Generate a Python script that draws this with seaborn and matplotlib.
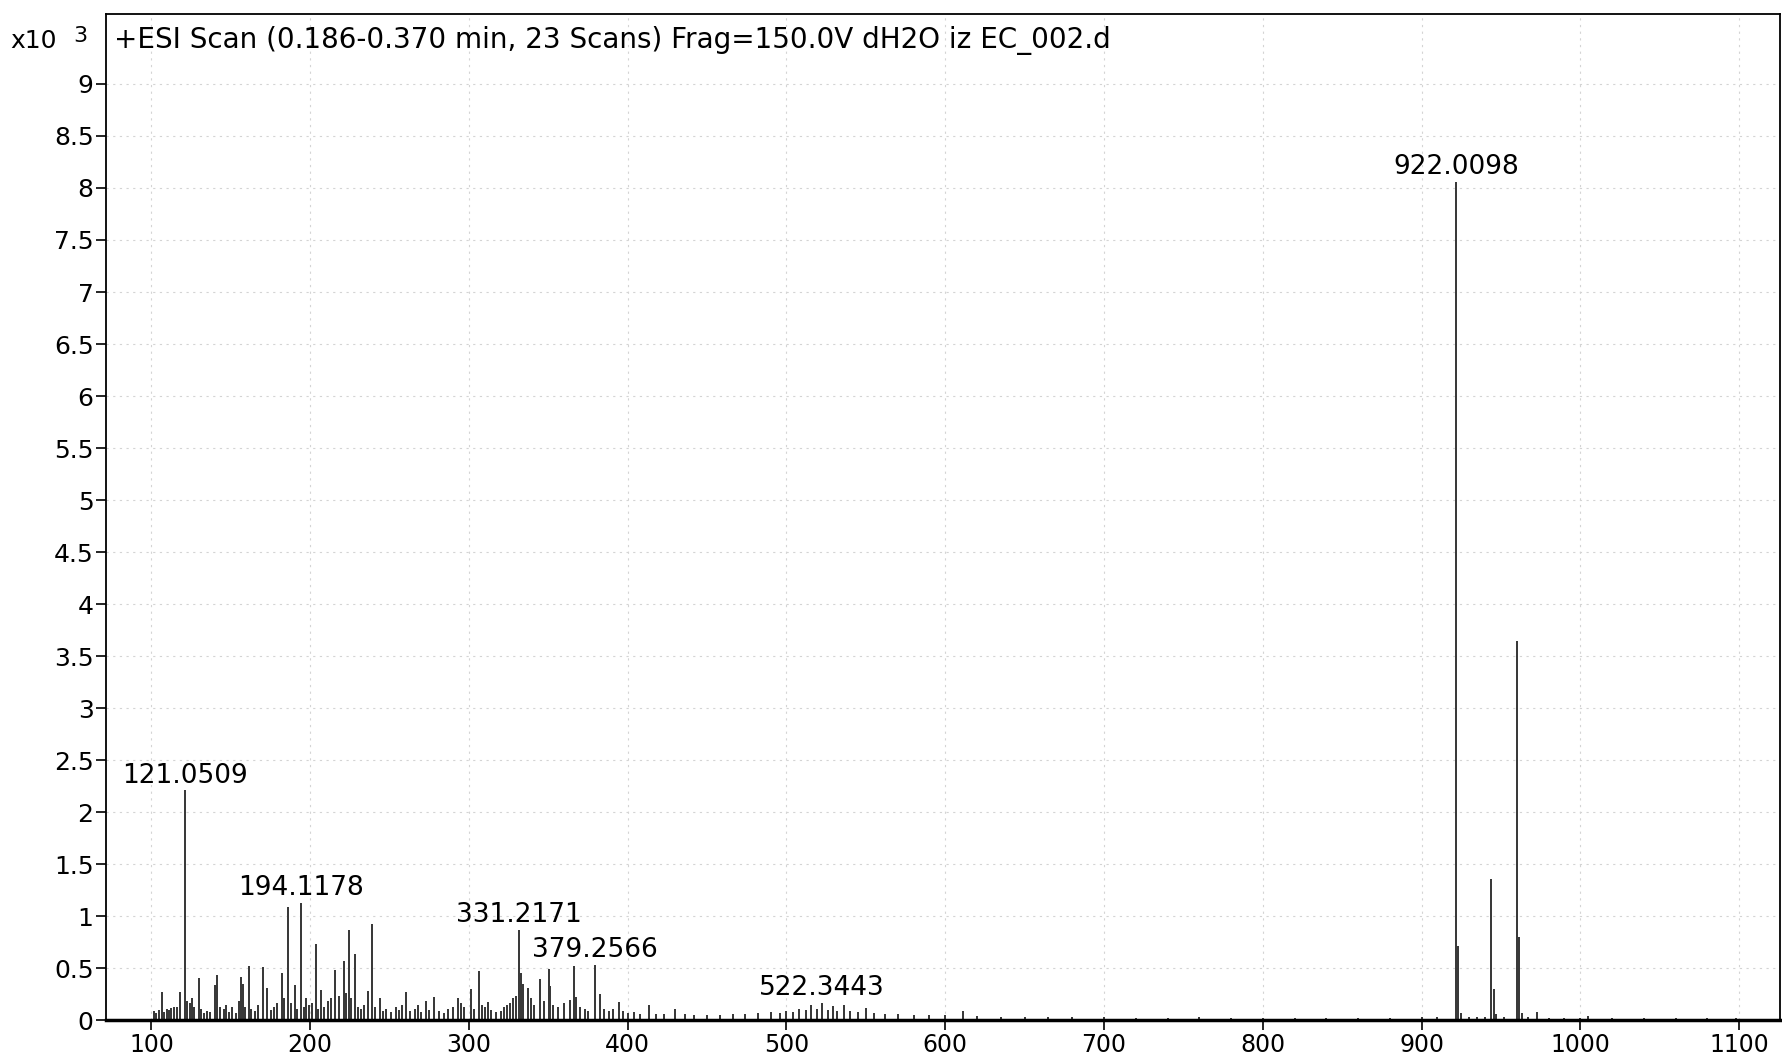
import pandas as pd
import matplotlib
matplotlib.use('Agg')
import matplotlib.pyplot as plt
import seaborn as sns

# m/z and counts (x10^3)
low_mz = [101.5, 103, 104.5, 106.5, 108, 109.5, 111, 112.5, 114, 116, 118, 121.0509,
          122.5, 124, 125.5, 127, 129.8, 131.5, 133, 135, 137, 139.8, 141.6, 143,
          145.5, 147, 149, 151, 153.5, 155, 156.6, 157.8, 159, 161.5, 163, 165, 167,
          170, 173, 175, 177, 179, 182, 183.5, 185.8, 188, 190.5, 192, 194.1178,
          196, 197.5, 199.5, 201, 203.8, 205, 207, 209, 211, 213, 215.8, 218, 221,
          222.5, 224.3, 226, 228, 230, 232, 234, 236.3, 239, 241, 244, 246, 248]
low_int = [0.08, 0.06, 0.09, 0.26, 0.07, 0.10, 0.09, 0.11, 0.12, 0.12, 0.26, 2.20,
           0.18, 0.16, 0.20, 0.12, 0.40, 0.10, 0.06, 0.08, 0.07, 0.33, 0.43, 0.12,
           0.10, 0.14, 0.07, 0.12, 0.06, 0.18, 0.41, 0.34, 0.12, 0.51, 0.10, 0.08, 0.14,
           0.50, 0.30, 0.09, 0.12, 0.16, 0.44, 0.20, 1.08, 0.16, 0.33, 0.10, 1.12,
           0.12, 0.20, 0.14, 0.16, 0.72, 0.10, 0.28, 0.12, 0.18, 0.20, 0.47, 0.22, 0.56,
           0.25, 0.86, 0.20, 0.63, 0.12, 0.10, 0.14, 0.27, 0.92, 0.12, 0.20, 0.08, 0.10]

mid_mz = [251, 254, 256, 258, 260.3, 263, 266, 268, 270, 273, 275, 278, 281, 284,
          287, 290, 293, 295, 297, 301.2, 303, 306.5, 308, 310, 312, 314, 317, 320,
          322, 324, 326, 328, 329.5, 331.2171, 332.9, 334.3, 336.9, 339, 341, 345,
          347, 350.5, 351.3, 353, 356, 359.7, 363.7, 366.1, 367.4, 370, 373, 375,
          379.2566, 382.5, 385, 388, 391, 394.3, 397, 400, 404, 408, 413.7, 418, 423,
          430, 436, 442, 450]
mid_int = [0.07, 0.12, 0.09, 0.14, 0.26, 0.08, 0.10, 0.14, 0.07, 0.18, 0.09, 0.21, 0.08, 0.06,
           0.10, 0.12, 0.20, 0.16, 0.12, 0.29, 0.10, 0.46, 0.14, 0.12, 0.17, 0.09, 0.07, 0.08,
           0.12, 0.14, 0.16, 0.20, 0.22, 0.86, 0.44, 0.34, 0.30, 0.20, 0.14, 0.39,
           0.18, 0.48, 0.32, 0.14, 0.12, 0.16, 0.19, 0.51, 0.21, 0.12, 0.10, 0.08,
           0.52, 0.24, 0.10, 0.08, 0.10, 0.17, 0.08, 0.06, 0.07, 0.05, 0.14, 0.05, 0.05,
           0.10, 0.05, 0.04, 0.04]

high_mz = [458, 466, 474, 482, 490, 496, 500, 504, 508, 512, 515.3, 519, 522.3443,
           526, 529, 532, 536.4, 540, 545, 550, 555, 562, 570, 580, 590, 600, 611,
           620, 635, 650, 665, 680, 700, 720, 740, 760, 780, 800, 820, 840, 860, 880,
           900, 910, 922.0098, 923, 925, 930, 935, 940, 943.99, 945.4, 947, 952,
           959.97, 961.3, 963, 967, 972.6, 980, 990, 1000, 1005, 1020, 1040, 1060,
           1080, 1098]
high_int = [0.04, 0.05, 0.05, 0.06, 0.07, 0.06, 0.08, 0.07, 0.10, 0.09, 0.14, 0.10, 0.16,
            0.09, 0.13, 0.08, 0.14, 0.08, 0.07, 0.11, 0.06, 0.05, 0.05, 0.04, 0.04, 0.04, 0.08,
            0.03, 0.02, 0.02, 0.02, 0.02, 0.02, 0.01, 0.01, 0.02, 0.01, 0.01, 0.01, 0.01, 0.01, 0.01,
            0.02, 0.02, 8.05, 0.70, 0.06, 0.02, 0.02, 0.02, 1.35, 0.29, 0.05, 0.02,
            3.64, 0.79, 0.06, 0.02, 0.07, 0.01, 0.01, 0.01, 0.03, 0.01, 0.01, 0.01,
            0.01, 0.01]

labelled_mz = [121.0509, 194.1178, 331.2171, 379.2566, 522.3443, 922.0098]

title = '+ESI Scan (0.186-0.370 min, 23 Scans) Frag=150.0V dH2O iz EC_002.d'
x_ticks = [100, 200, 300, 400, 500, 600, 700, 800, 900, 1000, 1100]
y_ticks = [0, 0.5, 1, 1.5, 2, 2.5, 3, 3.5, 4, 4.5, 5, 5.5, 6, 6.5, 7, 7.5, 8, 8.5, 9]

peaks = pd.DataFrame({'mz': low_mz + mid_mz + high_mz,
                      'counts': low_int + mid_int + high_int}).sort_values('mz')

# stick spectrum as one line: up and back down at every peak
xs, ys = [], []
for mz, c in zip(peaks['mz'], peaks['counts']):
    xs += [mz, mz, mz]
    ys += [0, c, 0]
profile = pd.DataFrame({'mz': xs, 'counts': ys})

sns.set_style('ticks')
plt.rcParams['font.family'] = ['DejaVu Sans']
plt.rcParams['text.color'] = 'black'
plt.rcParams['xtick.color'] = 'black'
plt.rcParams['ytick.color'] = 'black'

fig = plt.figure(figsize=(17.82, 10.54), dpi=100)
ax = fig.add_axes([0.0595, 0.032, 0.9394, 0.9545])

sns.lineplot(data=profile, x='mz', y='counts', sort=False, estimator=None,
             color='#3a3a3a', linewidth=1.4, ax=ax)

for mz in labelled_mz:
    c = peaks.loc[peaks['mz'] == mz, 'counts'].iloc[0]
    ax.annotate('{:.4f}'.format(mz), (mz, c), xytext=(0, 2),
                textcoords='offset points', ha='center', va='bottom', fontsize=19)

ax.set_xlim(71.4, 1125.8)
ax.set_ylim(0, 9.67)
ax.set_xticks(x_ticks)
ax.set_yticks(y_ticks)
ax.set_yticklabels(['{:g}'.format(v) for v in y_ticks])
ax.set_xlabel('')
ax.set_ylabel('')
ax.tick_params(axis='both', labelsize=18, length=7, width=1.2, direction='out', pad=2)
ax.tick_params(axis='x', labelsize=17)
ax.grid(True, color='#d4d4d4', linestyle=(0, (2, 4)), linewidth=0.8)
for s in ax.spines.values():
    s.set_visible(True)
    s.set_linewidth(1.3)
    s.set_color('black')
ax.spines['bottom'].set_linewidth(2.5)

ax.text(0.005, 0.988, title, transform=ax.transAxes, ha='left', va='top', fontsize=20)
fig.text(0.006, 0.961, 'x10', fontsize=18, ha='left', va='center')
fig.text(0.041, 0.966, '3', fontsize=16, ha='left', va='center')

fig.savefig('out.png', dpi=100)
